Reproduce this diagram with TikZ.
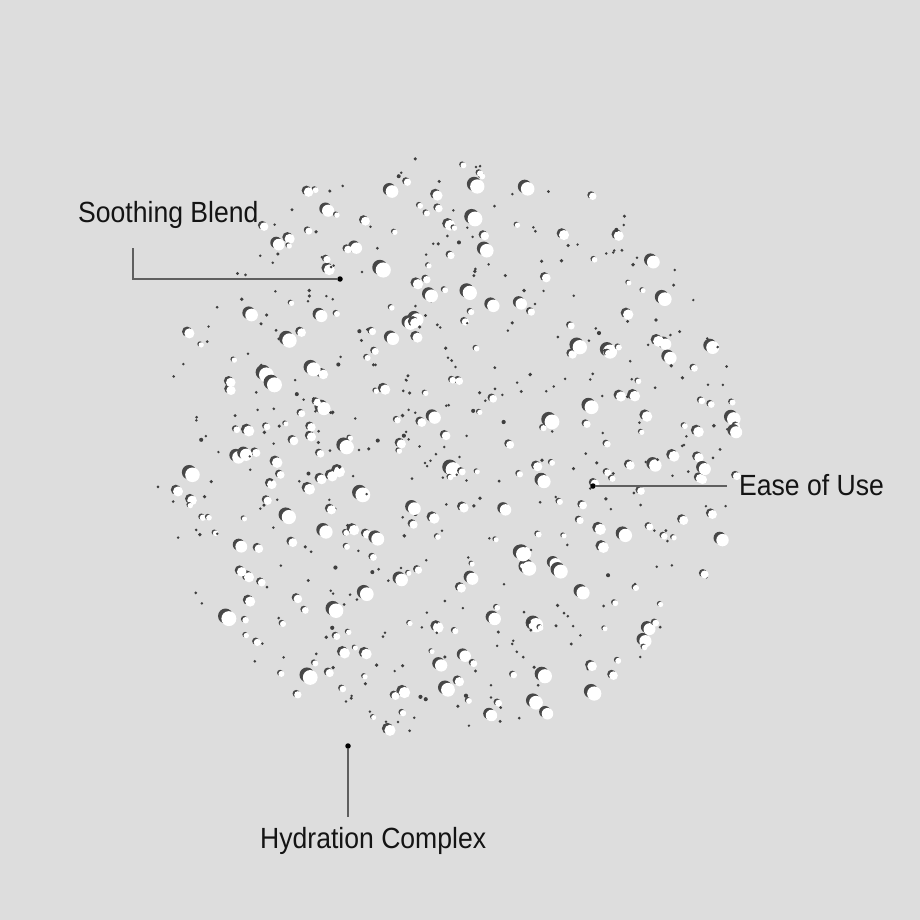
\documentclass[tikz,border=0pt]{standalone}
\usepackage{fontspec}
\setmainfont{Liberation Sans}[FakeStretch=0.91]
\definecolor{bg}{RGB}{221,221,221}
\definecolor{shade}{RGB}{45,45,45}
\definecolor{leader}{RGB}{95,95,95}
\begin{document}
\begin{tikzpicture}[x=1pt,y=-1pt,
  calllabel/.style={anchor=base west, inner sep=0pt, font=\fontsize{29.2}{34}\selectfont, text=black!92},
  leaderline/.style={draw=leader, line width=1.1pt},
  enddot/.style={circle, fill=black, inner sep=0pt, minimum size=5.5pt}]
\useasboundingbox (0,0) rectangle (920,920);
\fill[bg] (0,0) rectangle (920,920);
\pgfmathsetseed{11}
\foreach \i in {1,...,640}{
  \pgfmathsetmacro\ang{360*rnd}
  \pgfmathsetmacro\rr{292*sqrt(rnd)}
  \pgfmathsetmacro\cx{447+\rr*cos(\ang)}
  \pgfmathsetmacro\cy{448+\rr*sin(\ang)}
  \pgfmathsetmacro\uu{rnd}
  \pgfmathsetmacro\rd{1.6+6*\uu*\uu*\uu}
  \pgfmathtruncatemacro\isbig{\rd>2.5 ? 1 : 0}
  \ifnum\isbig=1
    \fill[shade!85!bg] (\cx-0.45*\rd,\cy-0.35*\rd) circle[radius=\rd];
    \fill[white] (\cx,\cy) circle[radius=\rd];
  \else
    \fill[shade!90!bg] (\cx,\cy) circle[radius=0.85*\rd];
  \fi
}
% callouts
\node[calllabel] (t1) at (78,222) {Soothing Blend};
\node[enddot] (d1) at (340,279) {};
\coordinate (k1) at (133,279);
\coordinate (e1) at (133,248);
\draw[leaderline] (d1) -- (k1) -- (e1);

\node[calllabel] (t2) at (739,495) {Ease of Use};
\node[enddot] (d2) at (593,486) {};
\coordinate (e2) at (727,486);
\draw[leaderline] (d2) -- (e2);

\node[calllabel] (t3) at (260,848) {Hydration Complex};
\node[enddot] (d3) at (348,746) {};
\coordinate (e3) at (348,817);
\draw[leaderline] (d3) -- (e3);
\end{tikzpicture}
\end{document}
